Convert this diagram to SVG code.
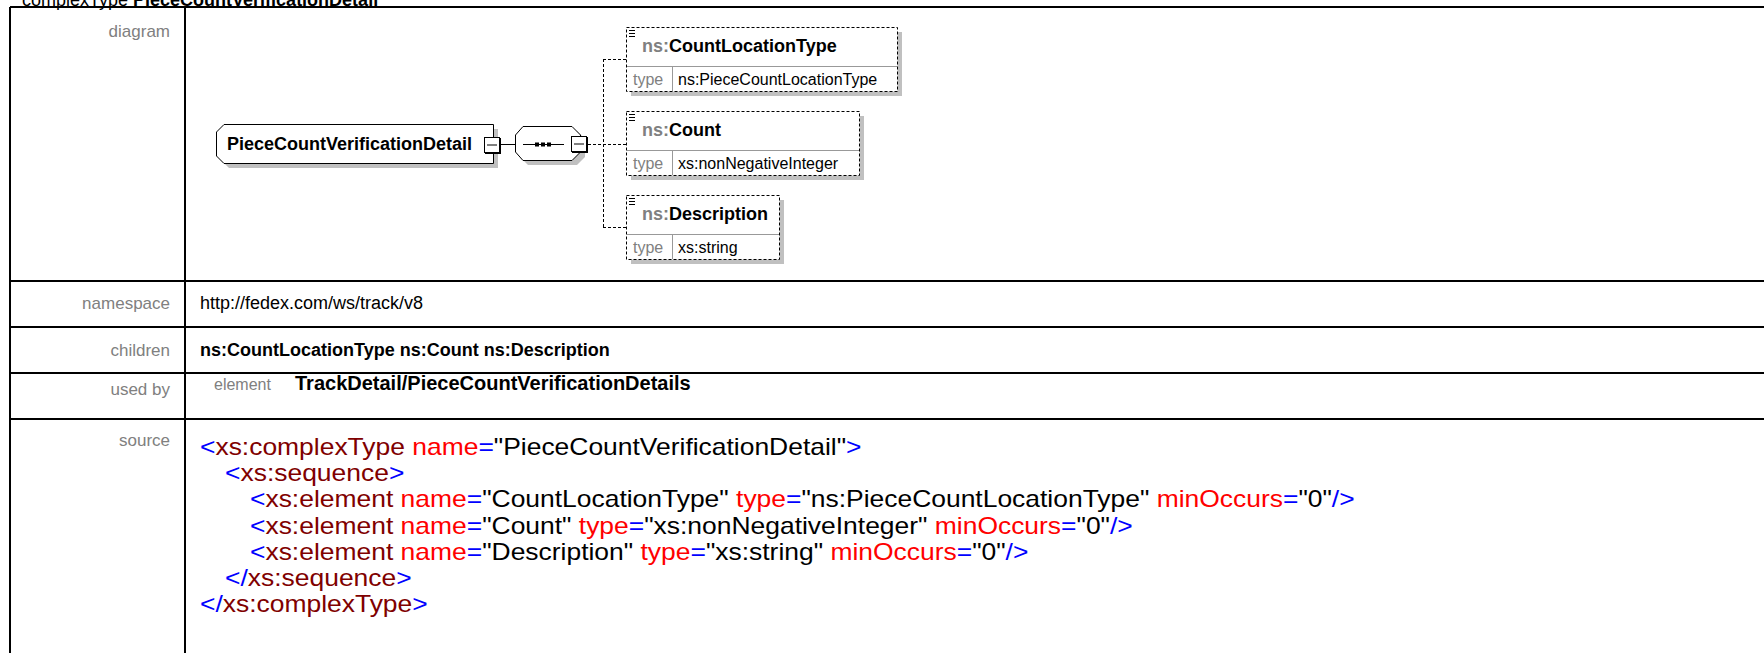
<svg xmlns="http://www.w3.org/2000/svg" width="1764" height="653" viewBox="0 0 1764 653">
<style>
text{font-family:"Liberation Sans",Arial,sans-serif}
.lbl{fill:#808080;font-size:17px;text-anchor:end}
.val{fill:#000;font-size:18px}
.b{font-weight:bold}
.grid{stroke:#000;stroke-width:2;fill:none}
.shadow{fill:#c0c0c0}
.box{fill:#fff;stroke:#000;stroke-width:1}
.opt{fill:#fff;stroke:#000;stroke-width:1;stroke-dasharray:3,2}
.sep{stroke:#999;stroke-width:1}
.conn{stroke:#000;stroke-width:1;fill:none}
.dconn{stroke:#000;stroke-width:1;fill:none;stroke-dasharray:3,2}
.code{font-size:23px}
.sym{fill:#0000ff}
.tag{fill:#800000}
.an{fill:#ff0000}
.av{fill:#000}
.nm{font-size:18px;font-weight:bold;fill:#000}
.grey{fill:#808080}
.tp{font-size:16px;fill:#000}
</style>
<rect width="1764" height="653" fill="#fff"/>
<g id="title"><text x="22" y="6" font-size="18" fill="#000">complexType <tspan class="b">PieceCountVerificationDetail</tspan></text></g>
<g id="table">
<path class="grid" d="M10,7 H1764 M10,7 V653 M185,7 V653 M10,281 H1764 M10,327 H1764 M10,373 H1764 M10,419 H1764"/>
<text class="lbl" x="170" y="37">diagram</text>
<text class="lbl" x="170" y="309">namespace</text>
<text class="lbl" x="170" y="356">children</text>
<text class="lbl" x="170" y="395">used by</text>
<text class="lbl" x="170" y="446">source</text>
<text class="val" x="200" y="309">http://fedex.com/ws/track/v8</text>
<text class="val b" x="200" y="356">ns:CountLocationType ns:Count ns:Description</text>
<text x="214" y="390" font-size="16" fill="#808080">element</text>
<text class="b" x="295" y="390" font-size="20" fill="#000">TrackDetail/PieceCountVerificationDetails</text>
</g>
<g id="source" class="code" transform="scale(1.15,1)">
<text x="173.9" y="455"><tspan class="sym">&lt;</tspan><tspan class="tag">xs:complexType</tspan> <tspan class="an">name</tspan><tspan class="sym">=</tspan><tspan class="av">"PieceCountVerificationDetail"</tspan><tspan class="sym">&gt;</tspan></text>
<text x="195.7" y="481"><tspan class="sym">&lt;</tspan><tspan class="tag">xs:sequence</tspan><tspan class="sym">&gt;</tspan></text>
<text x="217.4" y="507"><tspan class="sym">&lt;</tspan><tspan class="tag">xs:element</tspan> <tspan class="an">name</tspan><tspan class="sym">=</tspan><tspan class="av">"CountLocationType"</tspan> <tspan class="an">type</tspan><tspan class="sym">=</tspan><tspan class="av">"ns:PieceCountLocationType"</tspan> <tspan class="an">minOccurs</tspan><tspan class="sym">=</tspan><tspan class="av">"0"</tspan><tspan class="sym">/&gt;</tspan></text>
<text x="217.4" y="534"><tspan class="sym">&lt;</tspan><tspan class="tag">xs:element</tspan> <tspan class="an">name</tspan><tspan class="sym">=</tspan><tspan class="av">"Count"</tspan> <tspan class="an">type</tspan><tspan class="sym">=</tspan><tspan class="av">"xs:nonNegativeInteger"</tspan> <tspan class="an">minOccurs</tspan><tspan class="sym">=</tspan><tspan class="av">"0"</tspan><tspan class="sym">/&gt;</tspan></text>
<text x="217.4" y="560"><tspan class="sym">&lt;</tspan><tspan class="tag">xs:element</tspan> <tspan class="an">name</tspan><tspan class="sym">=</tspan><tspan class="av">"Description"</tspan> <tspan class="an">type</tspan><tspan class="sym">=</tspan><tspan class="av">"xs:string"</tspan> <tspan class="an">minOccurs</tspan><tspan class="sym">=</tspan><tspan class="av">"0"</tspan><tspan class="sym">/&gt;</tspan></text>
<text x="195.7" y="586"><tspan class="sym">&lt;/</tspan><tspan class="tag">xs:sequence</tspan><tspan class="sym">&gt;</tspan></text>
<text x="173.9" y="612"><tspan class="sym">&lt;/</tspan><tspan class="tag">xs:complexType</tspan><tspan class="sym">&gt;</tspan></text>
</g>
<g id="connectors">
<path class="conn" d="M500,144.5 H515"/>
<path class="dconn" d="M588,144.5 H603 M603.5,59 V227 M603,59.5 H626 M603,144.5 H626 M603,227.5 H626"/>
</g>
<g id="root">
<path class="shadow" d="M229,129 H498 V168 H229 L221,160 V137 Z"/>
<path class="box" d="M224,124.5 H493.5 V163.5 H224 L216.5,156 V132 Z"/>
<text class="nm" x="227" y="150">PieceCountVerificationDetail</text>
<rect x="484.5" y="137.5" width="15" height="15" fill="#fff" stroke="#000"/>
<path d="M500,138 V154 M485,153 H501" stroke="#000" stroke-width="2"/>
<path d="M487,145 H497" stroke="#000"/>
</g>
<g id="sequence">
<path class="shadow" d="M528,131 H577 L585,139 V157 L577,165 H528 L520,157 V139 Z"/>
<path class="box" d="M523,126.5 H572 L580.5,135 V152 L572,160.5 H523 L515.5,152 V135 Z"/>
<path d="M523,144.5 H564" stroke="#000"/>
<rect x="535" y="142.5" width="4" height="4"/>
<rect x="541" y="142.5" width="4" height="4"/>
<rect x="547" y="142.5" width="4" height="4"/>
<rect x="571.5" y="136.5" width="15" height="15" fill="#fff" stroke="#000"/>
<path d="M587,137 V153 M572,152 H588" stroke="#000" stroke-width="2"/>
<path d="M574,144 H584" stroke="#000"/>
</g>
<g id="CountLocationType">
<rect class="shadow" x="631" y="32" width="271" height="64"/>
<rect class="opt" x="626.5" y="27.5" width="271" height="64"/>
<path class="sep" d="M627,66.5 H897 M672.5,67 V91"/>
<path d="M629,30.5 H635 M629,33.5 H635 M629,36.5 H635" stroke="#000"/>
<text class="nm" x="642" y="52"><tspan class="grey">ns:</tspan>CountLocationType</text>
<text class="tp" x="633" y="85"><tspan class="grey">type</tspan></text>
<text class="tp" x="678" y="85">ns:PieceCountLocationType</text>
</g>
<g id="Count">
<rect class="shadow" x="631" y="116" width="233" height="64"/>
<rect class="opt" x="626.5" y="111.5" width="233" height="64"/>
<path class="sep" d="M627,150.5 H859 M672.5,151 V175"/>
<path d="M629,114.5 H635 M629,117.5 H635 M629,120.5 H635" stroke="#000"/>
<text class="nm" x="642" y="136"><tspan class="grey">ns:</tspan>Count</text>
<text class="tp" x="633" y="169"><tspan class="grey">type</tspan></text>
<text class="tp" x="678" y="169">xs:nonNegativeInteger</text>
</g>
<g id="Description">
<rect class="shadow" x="631" y="200" width="153" height="64"/>
<rect class="opt" x="626.5" y="195.5" width="153" height="64"/>
<path class="sep" d="M627,234.5 H779 M672.5,235 V259"/>
<path d="M629,198.5 H635 M629,201.5 H635 M629,204.5 H635" stroke="#000"/>
<text class="nm" x="642" y="220"><tspan class="grey">ns:</tspan>Description</text>
<text class="tp" x="633" y="253"><tspan class="grey">type</tspan></text>
<text class="tp" x="678" y="253">xs:string</text>
</g>
</svg>
